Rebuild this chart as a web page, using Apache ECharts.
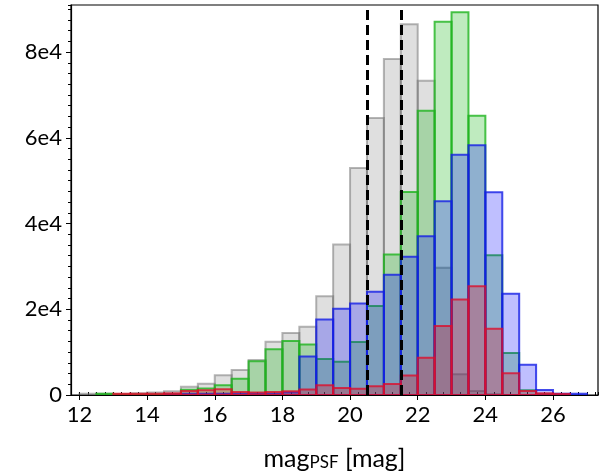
<!DOCTYPE html>
<html>
<head>
<meta charset="utf-8">
<script src="https://cdn.jsdelivr.net/npm/echarts@6/dist/echarts.min.js"></script>
<style>
  html, body { margin: 0; padding: 0; background: #fff; }
  #main { width: 606px; height: 476px; }
</style>
</head>
<body>
<div id="main"></div>
<script type="text/javascript">
// histogram bins (left edges), width 0.5 mag
var binLeft = [12, 12.5, 13, 13.5, 14, 14.5, 15, 15.5, 16, 16.5, 17, 17.5, 18, 18.5, 19,
               19.5, 20, 20.5, 21, 21.5, 22, 22.5, 23, 23.5, 24, 24.5, 25, 25.5, 26, 26.5];
var binWidth = 0.5;

var grayCounts  = [300, 300, 200, 400, 600, 900, 1900, 2650, 4600, 5830, 8160, 12440, 14450, 15940, 23070,
                   35110, 52980, 64630, 78380, 86530, 73330, 29680, 4820, 930, 200, 0, 0, 0, 0, 0];
var greenCounts = [0, 300, 100, 100, 100, 200, 1200, 1500, 2260, 3820, 7850, 10650, 12580, 11810, 8400,
                   7780, 12350, 20740, 32780, 47390, 66330, 87100, 89330, 65170, 32620, 9800, 1100, 200, 50, 0];
var blueCounts  = [0, 0, 0, 0, 0, 100, 300, 300, 300, 300, 300, 300, 600, 9000, 17640,
                   20130, 21370, 24090, 28050, 32250, 37050, 45200, 56080, 58250, 47300, 23630, 7040, 1150, 300, 300];
var redCounts   = [0, 0, 300, 300, 300, 400, 950, 1100, 1330, 700, 600, 700, 900, 1300, 2300,
                   1650, 1450, 2050, 2550, 4550, 8710, 16080, 22300, 25400, 15470, 5060, 930, 400, 250, 0];

var cutLines = [20.5, 21.5];
var xMajor = [12, 14, 16, 18, 20, 22, 24, 26];
var yMajor = [0, 20000, 40000, 60000, 80000];
var yLabels = ['0', '2e4', '4e4', '6e4', '8e4'];

var FONT = 'Lato';

function binData(counts) {
  var out = [];
  for (var i = 0; i < binLeft.length; i++) {
    out.push([binLeft[i], binLeft[i] + binWidth, counts[i]]);
  }
  return out;
}

function histSeries(name, counts, fill, stroke) {
  return {
    name: name,
    type: 'custom',
    xAxisIndex: 0,
    yAxisIndex: 0,
    clip: true,
    data: binData(counts),
    encode: { x: [0, 1], y: 2 },
    renderItem: function (params, api) {
      var v = api.value(2);
      if (!v) return null;
      var p0 = api.coord([api.value(0), v]);
      var p1 = api.coord([api.value(1), 0]);
      return {
        type: 'rect',
        shape: { x: p0[0], y: p0[1], width: p1[0] - p0[0], height: p1[1] - p0[1] },
        style: { fill: fill, stroke: stroke, lineWidth: 2 }
      };
    }
  };
}

var chart = echarts.init(document.getElementById('main'));

var series = [
  histSeries('all', grayCounts, 'rgba(128,128,128,0.25)', 'rgba(110,110,110,0.5)'),
  histSeries('green', greenCounts, 'rgba(0,175,0,0.25)', 'rgba(30,180,30,0.8)'),
  histSeries('blue', blueCounts, 'rgba(0,0,255,0.25)', 'rgba(20,30,230,0.8)'),
  histSeries('red', redCounts, 'rgba(232,0,10,0.25)', 'rgba(220,15,45,0.8)')
];
series[3].markLine = {
  silent: true,
  symbol: 'none',
  label: { show: false },
  lineStyle: { color: '#000', width: 3, type: [10, 5] },
  data: cutLines.map(function (v) { return { xAxis: v }; })
};

chart.setOption({
  animation: false,
  grid: { left: 71, right: 8, top: 5, bottom: 80, show: true, borderColor: '#000', borderWidth: 1.2 },
  xAxis: [
    {
      type: 'value', min: 11.75, max: 27.33, interval: 0.25,
      axisLine: { show: true, lineStyle: { color: '#000', width: 1.2 } },
      axisTick: { show: true, inside: true, length: 3, lineStyle: { color: '#000' } },
      axisLabel: { show: false },
      splitLine: { show: false }
    },
    {
      type: 'value', min: 11.75, max: 27.33, position: 'bottom',
      axisLine: { show: false },
      axisTick: { show: true, length: 5, customValues: xMajor, lineStyle: { color: '#000' } },
      axisLabel: { show: true, customValues: xMajor, fontFamily: FONT, fontSize: 22, color: '#000', margin: 9 },
      splitLine: { show: false },
      name: '{m|mag}{s|PSF}{m| [mag]}',
      nameLocation: 'middle',
      nameGap: 46,
      nameTextStyle: {
        rich: {
          m: { fontFamily: FONT, fontSize: 25, color: '#000', lineHeight: 30, verticalAlign: 'bottom' },
          s: { fontFamily: FONT, fontSize: 17, color: '#000', lineHeight: 17, verticalAlign: 'bottom' }
        }
      }
    }
  ],
  yAxis: [
    {
      type: 'value', min: 0, max: 91000, interval: 2500,
      axisLine: { show: true, lineStyle: { color: '#000', width: 1.2 } },
      axisTick: { show: true, length: 3, lineStyle: { color: '#000' } },
      axisLabel: { show: false },
      splitLine: { show: false }
    },
    {
      type: 'value', min: 0, max: 91000, position: 'left',
      axisLine: { show: false },
      axisTick: { show: true, length: 5, customValues: yMajor, lineStyle: { color: '#000' } },
      axisLabel: {
        show: true, customValues: yMajor, fontFamily: FONT, fontSize: 22, color: '#000', margin: 9,
        formatter: function (v) { return yLabels[yMajor.indexOf(v)]; }
      },
      splitLine: { show: false }
    }
  ],
  series: series
});
</script>
</body>
</html>
